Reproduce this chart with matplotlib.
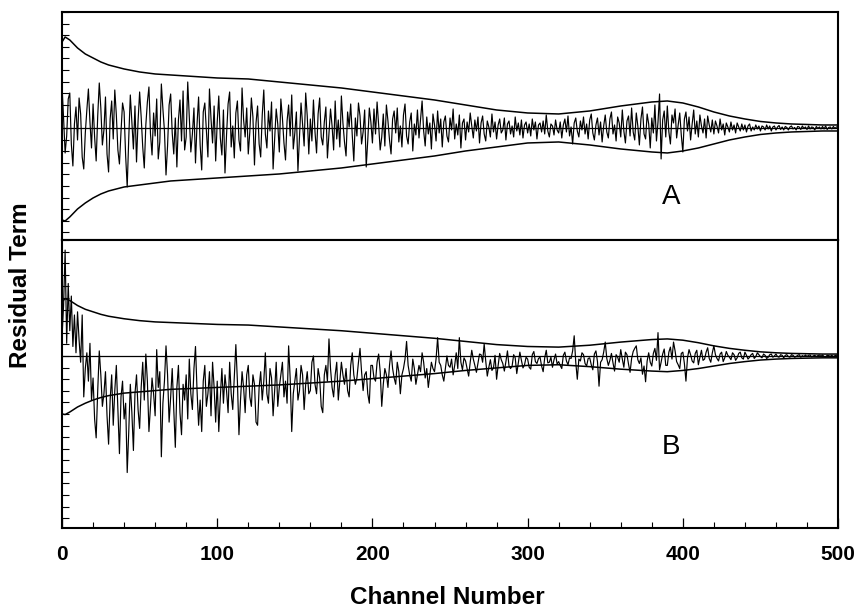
import numpy as np
import matplotlib
matplotlib.use('Agg')
import matplotlib.pyplot as plt
from matplotlib.ticker import MultipleLocator

plt.rcParams['font.family'] = ['Liberation Sans', 'DejaVu Sans']

# error envelope (upper / lower), same for both panels
env_ch = [0, 2, 5, 10, 15, 20, 25, 30, 40, 50, 60, 70, 80, 100, 120, 140, 160, 180,
          200, 220, 240, 260, 280, 300, 320, 340, 360, 380, 390, 400, 410, 420, 430,
          440, 450, 460, 470, 480, 490, 500]
env_hi = [8.6, 9.1, 8.8, 8.0, 7.4, 7.0, 6.6, 6.3, 5.9, 5.6, 5.4, 5.3, 5.2, 5.0, 4.9,
          4.6, 4.3, 4.0, 3.6, 3.2, 2.8, 2.3, 1.8, 1.5, 1.4, 1.7, 2.2, 2.6, 2.7, 2.5,
          2.1, 1.6, 1.2, 0.9, 0.65, 0.5, 0.4, 0.35, 0.3, 0.3]
env_lo = [-9.2, -9.3, -8.9, -8.1, -7.5, -7.0, -6.6, -6.3, -5.9, -5.7, -5.5, -5.3, -5.2,
          -5.0, -4.8, -4.6, -4.3, -4.0, -3.6, -3.2, -2.8, -2.3, -1.9, -1.5, -1.4, -1.7,
          -2.1, -2.4, -2.5, -2.3, -2.0, -1.6, -1.2, -0.9, -0.65, -0.5, -0.4, -0.35,
          -0.3, -0.3]

# residuals, panel A (one row = 10 channels)
resid_a = [
    4.2, 1.0, -2.5, -0.8, 2.9, 3.5, -1.6, -3.8, 0.4, 2.1,
    -1.2, 3.0, 1.4, -2.9, -4.1, -0.5, 1.8, 3.9, 0.6, -2.0,
    2.4, -0.9, -3.3, 1.2, 4.5, 2.0, -1.7, -0.2, 3.1, -2.6,
    -4.4, 0.9, 2.7, -1.1, 3.8, 1.3, -2.2, -3.6, -0.4, 2.5,
    1.6, -2.8, -5.9, -1.0, 3.3, 0.5, -2.1, 2.2, -3.4, 0.7,
    3.6, 1.1, -1.9, -4.0, 0.3, 2.6, 4.1, -0.6, -2.7, 1.5,
    -0.8, 2.9, -3.1, -1.4, 4.4, 1.9, -0.3, -4.7, -1.8, 2.3,
    3.4, -0.5, -2.6, 1.0, -3.9, 0.8, 2.8, -1.3, 3.7, -2.2,
    -0.9, 4.6, 1.2, -2.4, -0.6, 2.0, -3.5, 0.4, 3.1, -1.7,
    -4.2, 1.6, 2.5, -0.2, -2.9, 3.9, 0.9, -1.5, 2.2, -3.3,
    0.6, 3.2, -1.0, -2.7, 1.8, -4.5, -0.7, 2.4, 3.6, -1.9,
    0.2, -3.0, 1.5, 2.7, -1.2, -2.3, 4.0, 0.8, -0.9, 2.0,
    -2.6, -0.4, 3.0, 1.1, -3.7, 0.5, 2.2, -1.6, -2.9, 1.3,
    3.8, -0.6, -2.0, 1.7, -0.3, 2.6, -4.1, -1.1, 1.9, 0.4,
    -2.4, 2.9, 1.0, -1.5, -3.2, 0.7, 2.3, -0.8, 3.3, -2.1,
    -0.5, 1.6, -4.3, -1.0, 2.5, 0.3, -1.8, 3.5, 1.2, -2.6,
    0.9, -1.3, 2.8, -0.4, -2.5, 1.4, 3.0, -0.9, -1.7, 0.6,
    2.1, -3.0, -0.6, 1.9, 0.2, -2.2, 2.7, -1.1, 0.8, -1.9,
    3.2, 0.5, -1.4, -2.8, 1.6, 0.1, 2.4, -0.7, -3.3, 1.0,
    -0.8, 2.5, 1.2, -1.6, -0.4, 1.8, -3.9, -1.2, 2.0, 0.6,
    -1.5, 1.9, -0.6, 2.6, 0.3, -2.2, -0.9, 1.4, -1.8, 2.3,
    0.7, -1.2, -2.6, 0.9, 1.7, -0.5, 2.0, -1.4, 0.2, -1.9,
    1.3, 2.4, -0.8, -1.6, 0.6, 1.5, -2.3, 0.4, -0.7, 1.8,
    -1.0, 0.8, 2.7, -0.3, -1.8, 1.1, -0.6, 0.5, -2.1, 1.4,
    0.3, -1.3, 1.7, -0.5, 0.9, -1.9, 0.6, 1.2, -0.8, -1.4,
    1.0, -0.2, 1.9, -1.1, 0.4, -0.7, 1.3, -2.0, 0.5, 0.9,
    -1.2, 0.6, -0.4, 1.5, 0.2, -1.0, 0.8, -0.3, 1.1, -1.5,
    0.5, 1.2, -0.6, -1.3, 0.7, 0.1, -0.9, 1.4, -0.4, 0.6,
    -1.1, 0.3, 0.9, -0.5, -0.2, 1.0, -1.2, 0.4, 0.7, -0.6,
    0.2, -0.9, 1.1, -0.3, 0.5, -0.7, 0.8, -1.0, 0.3, 0.6,
    -0.5, 0.4, -0.8, 0.9, -0.2, 0.6, -1.1, 0.3, 0.5, -0.4,
    0.7, -0.6, 1.3, -0.3, -0.9, 0.4, 0.2, -0.7, 0.8, -0.2,
    -0.5, 0.6, -1.0, 0.3, 0.9, -0.4, 1.2, -0.8, 0.1, -1.6,
    0.5, 1.0, -0.3, -0.9, 0.7, -0.2, 1.1, -0.6, 0.4, -1.1,
    0.8, 1.4, -0.5, -1.2, 0.3, 1.0, -0.7, 0.6, -1.4, 0.2,
    1.3, -0.4, -1.0, 0.9, 1.6, -0.6, 0.3, -1.3, 1.1, 0.5,
    -0.9, 1.8, -0.3, -1.5, 0.7, 1.2, -0.8, 2.0, -0.4, -1.2,
    1.5, 0.2, -1.7, 0.9, 2.1, -0.6, -1.1, 1.4, 0.4, -2.0,
    1.0, -0.5, 2.3, -1.3, 0.6, 3.4, -3.1, 0.8, 1.7, -0.9,
    2.2, -0.4, -1.6, 1.3, 0.5, 1.9, -1.0, 0.3, 1.5, -0.7,
    -2.4, 0.9, 1.6, -0.3, 1.1, -1.2, 0.4, 1.8, -0.6, 0.7,
    -0.9, 1.3, 0.2, -0.5, 0.9, -1.0, 1.2, 0.3, -0.4, 0.8,
    -0.6, 0.7, 0.2, -0.5, 0.9, -0.2, 0.4, -0.7, 0.5, 0.1,
    -0.4, 0.6, -0.2, 0.3, -0.5, 0.5, 0.1, -0.3, 0.4, -0.2,
    0.3, -0.4, 0.2, 0.4, -0.3, 0.1, -0.2, 0.3, -0.1, 0.2,
    -0.3, 0.2, 0.1, -0.2, 0.3, -0.1, 0.2, -0.3, 0.1, 0.2,
    -0.2, 0.1, 0.25, -0.15, 0.1, -0.2, 0.15, 0.05, -0.2, 0.1,
    0.2, -0.1, 0.05, -0.2, 0.15, 0.1, -0.15, 0.2, -0.05, 0.1,
    -0.15, 0.2, -0.1, 0.1, 0.05, -0.2, 0.15, -0.05, 0.1, -0.1,
    0.15, -0.1, 0.2, -0.15, 0.05, 0.1, -0.1, 0.15, -0.05, 0.1,
]

# residuals, panel B (one row = 10 channels)
resid_b = [
    3.0, 8.0, 16.8, 2.0, 11.5, 4.0, 9.5, 1.5, 6.5, 0.5,
    7.0, 2.5, -1.0, 6.5, -6.5, -2.0, 0.5, -4.0, 2.0, -7.0,
    -3.5, -10.0, -13.0, -5.5, 0.8, -3.0, -8.0, -6.0, -2.5, -9.5,
    -14.0, -7.0, -3.0, -11.0, -5.5, -1.5, -8.5, -15.5, -6.5, -4.0,
    -10.0, -7.5, -18.5, -12.0, -4.5, -9.0, -15.0, -6.0, -3.0, -8.5,
    -11.5, -5.0, -1.0, -7.0, 0.3, -4.0, -12.0, -8.0, -3.5, -6.0,
    -9.5, 1.0, -5.0, -2.5, -16.0, -7.5, -4.0, 1.6, -3.0, -10.5,
    -6.5, -2.0, -8.5, -14.5, -5.0, -1.5, -9.0, -12.5, -4.5, -7.0,
    -3.0, -10.0, -0.5, -6.0, -8.5, -2.0, 1.5, -5.5, -11.0, -7.0,
    -12.0, -4.0, -1.5, -8.0, -6.0, -2.5, -9.5, -1.0, -5.0, -10.5,
    -4.0, -12.0, -6.5, -2.0, -7.5, -3.0, -5.5, -9.0, -1.0, -6.0,
    -8.5, -3.5, 1.8, -4.0, -12.5, -7.0, -2.5, -5.0, -9.0, -3.0,
    -1.5, -6.5, -8.0, -3.0, -4.5, -10.5, -11.0, -5.0, -2.5, -7.0,
    -4.0, 0.5, -6.0, -7.5, -2.0, -3.5, -9.5, -5.5, -1.0, -8.0,
    -5.0, -3.0, -1.0, -6.5, -4.0, -7.5, 1.6, -3.5, -12.0, -6.0,
    -4.0, -2.0, -7.0, -5.5, -1.5, -3.0, -8.5, -4.5, -2.5, -6.0,
    -5.5, -1.0, 0.0, -4.5, -6.0, -2.0, -3.5, -8.0, -9.0, -3.0,
    -1.5, -4.0, 2.7, -2.0, -5.0, -6.5, -3.0, -1.0, -7.0, -4.0,
    -1.0, -3.0, -4.5, -2.0, -5.5, -6.5, -1.5, 0.5, -3.0, -4.5,
    -3.5, -1.0, 1.2, -2.5, -5.5, -3.0, -2.5, -6.0, -7.5, -1.5,
    -1.5, -3.5, -4.0, -1.0, 0.3, -2.5, -8.0, -4.5, -2.0, -3.0,
    -5.0, -1.5, 0.8, -2.0, -3.5, -4.5, -1.0, -2.5, -6.0, -3.0,
    -2.0, -0.5, 2.3, -1.5, -3.0, -4.0, -0.5, -2.0, -4.5, -3.0,
    -1.5, -2.5, 0.5, -1.0, -3.5, -2.0, -5.0, -3.0, -1.0, -2.0,
    -2.5, -0.5, 2.9, -1.0, -1.5, -3.0, -4.0, -2.0, 0.0, -1.5,
    -1.8, -0.5, -3.0, -1.5, 0.5, -2.0, 2.9, -1.0, -2.2, -0.3,
    -0.8, -2.0, -3.2, -1.0, 0.9, -0.5, -1.5, -2.6, -1.2, 0.3,
    0.2, -1.0, 1.9, -0.8, -3.2, -1.8, -0.6, -2.3, -1.9, 0.1,
    -3.7, -1.5, 0.4, -0.6, -1.2, -2.4, -0.9, 0.8, -1.6, -2.0,
    -1.6, 0.2, -0.3, -2.8, -1.1, 0.6, -0.7, -1.9, -1.4, -0.2,
    -0.5, -1.8, -2.1, 0.2, 0.7, -0.9, -1.2, -0.4, -0.2, -1.6,
    -2.5, -0.3, 0.9, -1.1, -1.0, -0.2, -1.8, -0.6, 0.3, -1.3,
    -0.9, -1.5, -2.0, 0.1, 0.6, -0.8, -1.4, -0.3, -0.4, 0.8,
    3.2, -1.0, -3.7, -0.5, -0.8, 0.5, 0.2, -1.2, -1.6, -0.4,
    -0.3, -1.4, -2.2, 0.3, 0.8, -0.9, -4.8, -1.0, -0.6, 0.6,
    2.2, -0.4, -1.5, -0.7, 0.4, -1.1, -2.4, 0.2, -0.2, -1.0,
    1.0, -0.5, -1.8, 0.6, 0.2, -1.3, -2.6, -0.4, 0.7, 1.2,
    1.6, -0.6, -1.2, -0.3, -2.9, -1.6, -4.1, -0.8, 0.5, -1.0,
    -1.6, 0.4, 1.2, -0.7, 3.7, -2.2, -1.0, 0.3, 1.1, -1.5,
    -1.5, 0.6, 1.4, -0.5, 2.2, 0.8, -0.9, -1.4, -2.0, 0.4,
    0.6, -1.2, -4.0, -0.3, 1.0, 0.2, -0.8, -1.1, 0.4, 0.9,
    -1.4, -0.2, 0.9, -0.7, -0.5, 0.6, 1.3, -0.4, -1.0, 0.5,
    1.6, 0.2, -0.4, -0.8, 0.3, 0.6, -0.9, -0.3, 0.7, 0.1,
    -0.2, -0.6, 0.5, 0.2, -0.7, -0.3, 0.4, 0.6, -0.3, -0.5,
    0.6, 0.1, -0.5, -0.2, 0.2, 0.4, -0.4, -0.1, 0.5, 0.2,
    -0.1, -0.3, 0.3, 0.1, -0.4, -0.2, 0.2, 0.3, -0.2, 0.0,
    0.3, -0.1, -0.2, 0.2, 0.1, -0.3, 0.1, 0.2, -0.1, -0.2,
    0.2, 0.1, -0.2, -0.1, 0.1, 0.2, -0.2, 0.05, -0.1, 0.15,
    -0.1, 0.1, 0.15, -0.15, 0.0, 0.1, -0.1, 0.05, 0.15, -0.05,
    0.15, -0.1, -0.15, 0.1, 0.05, -0.05, 0.1, -0.1, 0.05, 0.1,
]

channels = np.arange(len(resid_a))

fig = plt.figure(figsize=(8.59, 6.08), dpi=100)
ax_a = fig.add_axes([0.0722, 0.6053, 0.9034, 0.375])
ax_b = fig.add_axes([0.0722, 0.1316, 0.9034, 0.4737])

panels = [(ax_a, resid_a, (-11.2, 11.6), 1.16, 'A', 0.19),
          (ax_b, resid_b, (-27.3, 18.4), 1.84, 'B', 0.28)]

for ax, resid, ylim, ystep, tag, ty in panels:
    ax.plot(channels, resid, color='black', lw=0.85)
    ax.plot(env_ch, env_hi, color='black', lw=1.1)
    ax.plot(env_ch, env_lo, color='black', lw=1.1)
    ax.axhline(0, color='black', lw=0.9)
    ax.set_xlim(0, 500)
    ax.set_ylim(*ylim)
    ax.yaxis.set_major_locator(MultipleLocator(ystep))
    ax.yaxis.set_major_formatter(plt.NullFormatter())
    ax.tick_params(axis='y', direction='in', length=5, width=0.8)
    for s in ax.spines.values():
        s.set_linewidth(1.5)
    ax.text(0.785, ty, tag, transform=ax.transAxes,
            fontsize=20, ha='center', va='center')

ax_a.set_xticks([])
ax_b.xaxis.set_major_locator(MultipleLocator(100))
ax_b.xaxis.set_minor_locator(MultipleLocator(20))
ax_b.tick_params(axis='x', which='major', direction='in', length=7, width=0.9,
                 pad=12, labelsize=15)
ax_b.tick_params(axis='x', which='minor', direction='in', length=4, width=0.8)
for lab in ax_b.get_xticklabels():
    lab.set_fontweight('bold')

fig.text(447 / 859, 1 - 597 / 608, 'Channel Number', fontsize=17.5,
         fontweight='bold', ha='center', va='center')
fig.text(21 / 859, 1 - 285 / 608, 'Residual Term', fontsize=17.5,
         fontweight='bold', rotation=90, ha='center', va='center')

fig.savefig('out.png', dpi=100)
